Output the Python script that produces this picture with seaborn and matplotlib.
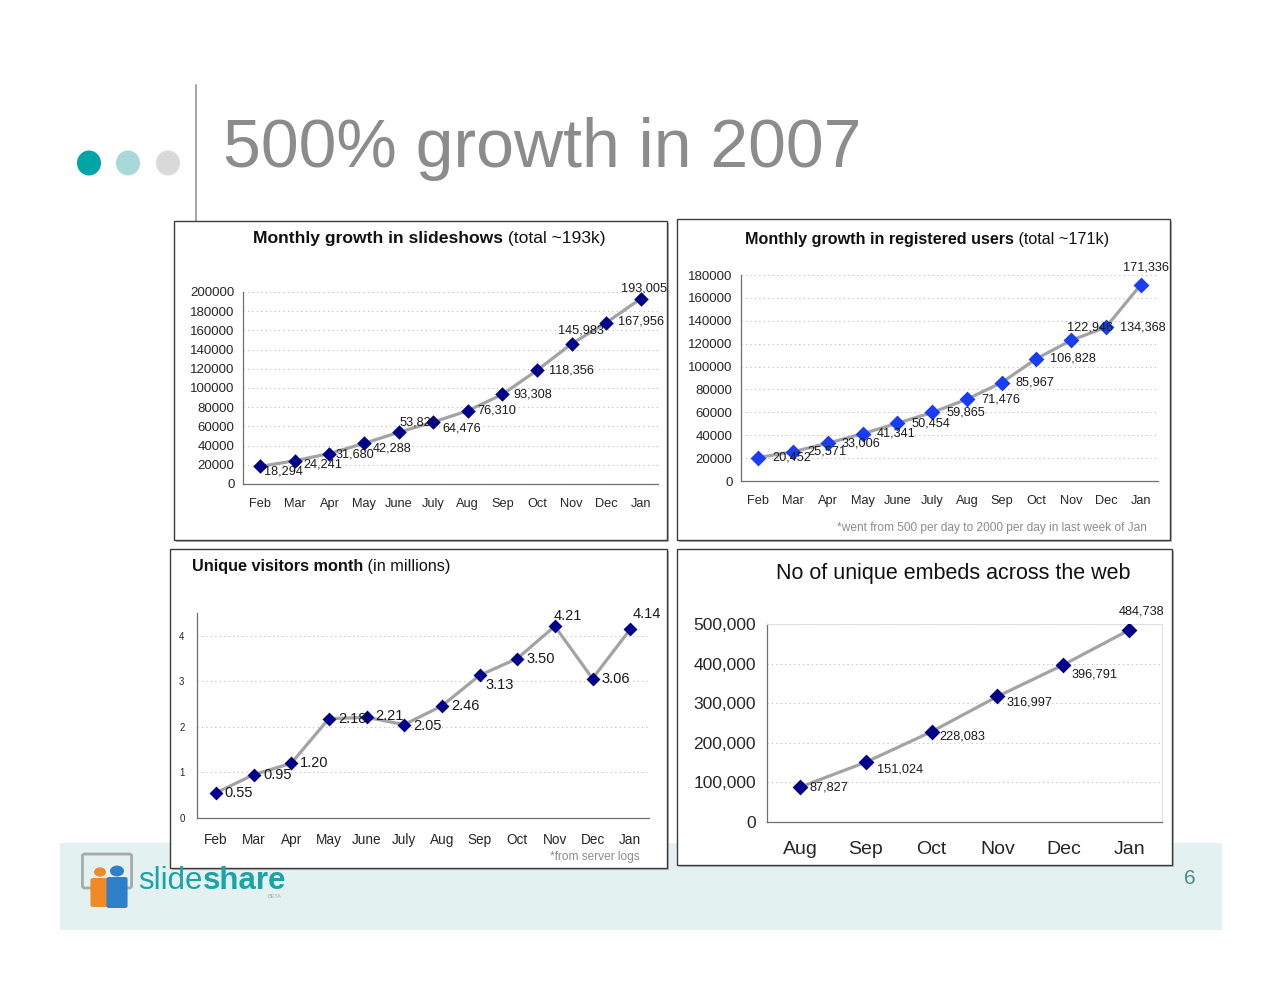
import matplotlib
matplotlib.use("Agg")
import matplotlib.pyplot as plt
import seaborn as sns
import numpy as np
from matplotlib.patches import Rectangle, Circle, FancyBboxPatch, Ellipse
from matplotlib.ticker import FixedLocator, FuncFormatter

# Data
months_12 = ["Feb", "Mar", "Apr", "May", "June", "July", "Aug", "Sep", "Oct", "Nov", "Dec", "Jan"]
slideshows = [18294, 24241, 31680, 42288, 53821, 64476, 76310, 93308, 118356, 145983, 167956, 193005]
users = [20452, 25571, 33006, 41341, 50454, 59865, 71476, 85967, 106828, 122946, 134368, 171336]
visitors = [0.55, 0.95, 1.20, 2.18, 2.21, 2.05, 2.46, 3.13, 3.50, 4.21, 3.06, 4.14]
months_6 = ["Aug", "Sep", "Oct", "Nov", "Dec", "Jan"]
embeds = [87827, 151024, 228083, 316997, 396791, 484738]

# label offsets in pixels (dx right, dy down) - layout only
off_slides = [(4, 5), (9, 4), (6, 1), (9, 5), (1, -10), (9, 6), (10, 0), (11, 0), (12, 0), (-14, -13), (12, -1), (-20, -10)]
off_users = [(14, 0)] * 9 + [(-4, -13), (14, 0), (-18, -17)]
off_visit = [(9, 0), (10, 0), (9, 0), (9, 0), (9, -1), (9, 1), (9, 0), (6, 10), (9, 0), (-1, -10), (9, 0), (2, -15)]
off_embeds = [(10, 0), (11, 7), (8, 5), (9, 6), (8, 10), (-10, -19)]

W, H = 1280, 989
sns.set_style("white")
plt.rcParams["font.family"] = ["Liberation Sans", "DejaVu Sans"]

fig = plt.figure(figsize=(W / 100, H / 100), dpi=100)
fig.patch.set_facecolor("white")


def fx(px):
    return px / W


def fy(py):
    return 1 - py / H


def rect(x0, y0, x1, y1, **kw):
    return Rectangle((fx(x0), fy(y1)), (x1 - x0) / W, (y1 - y0) / H, transform=fig.transFigure, **kw)


# background band + slide decorations
fig.patches.append(rect(60, 843, 1222, 930, facecolor="#e3f1f1", edgecolor="none", zorder=-5))
for cx, col in [(89, "#00a5a5"), (128, "#a9d8d8"), (168, "#d9d9d9")]:
    fig.patches.append(Ellipse((fx(cx), fy(163)), 24 / W, 25 / H, transform=fig.transFigure,
                               facecolor=col, edgecolor="none", zorder=-4))
fig.lines.append(plt.Line2D([fx(196), fx(196)], [fy(85), fy(221)], transform=fig.transFigure,
                            color="#a8a8a8", lw=1.5, zorder=-4))
fig.text(fx(223), fy(167), "500% growth in 2007", fontsize=49, color="#8c8c8c", va="baseline")

# chart boxes
boxes = [(174, 221, 667, 540), (677, 219, 1170, 540), (170, 549, 667, 868), (677, 549, 1172, 865)]
for x0, y0, x1, y1 in boxes:
    fig.patches.append(rect(x0 + 2, y0 + 2, x1 + 2, y1 + 2, facecolor="#b8b8b8", edgecolor="none", zorder=-3))
    fig.patches.append(rect(x0, y0, x1, y1, facecolor="white", edgecolor="#3c3c3c", lw=1, zorder=-2))


def make_chart(box, cats, vals, ylim, ystep, color, offsets, fmt, tick_fs, month_fs, label_fs,
               ms=55, comma=False, xpad=9, ypad=3):
    l, t, r, b = box
    ax = fig.add_axes([fx(l), fy(b), (r - l) / W, (b - t) / H])
    ax.patch.set_alpha(0)
    sns.lineplot(x=cats, y=vals, ax=ax, color="#a3a3a3", lw=2.3, sort=False, zorder=2)
    sns.scatterplot(x=cats, y=vals, ax=ax, marker="D", s=ms, color=color, edgecolor=color,
                    linewidth=0, zorder=3)
    n = len(cats)
    ax.set_xlim(-0.5, n - 0.5)
    ax.set_ylim(*ylim)
    ax.set_yticks(np.arange(ylim[0], ylim[1] + ystep / 2, ystep))
    ax.xaxis.set_minor_locator(FixedLocator(np.arange(-0.5, n, 1)))
    ax.tick_params(axis="x", which="major", length=0, pad=xpad, labelsize=month_fs)
    ax.tick_params(axis="x", which="minor", length=4, width=0.8, color="#707070", direction="out")
    ax.tick_params(axis="y", length=3, width=0.8, color="#707070", direction="out", pad=ypad, labelsize=tick_fs)
    if comma:
        ax.yaxis.set_major_formatter(FuncFormatter(lambda v, p: f"{v:,.0f}"))
    else:
        ax.yaxis.set_major_formatter(FuncFormatter(lambda v, p: f"{v:g}" if v < 10 else f"{v:.0f}"))
    ax.yaxis.grid(True, linestyle=(0, (1, 3)), color="#bdbdbd", lw=0.8)
    ax.set_axisbelow(True)
    for s in ["top", "right"]:
        ax.spines[s].set_visible(False)
    for s in ["left", "bottom"]:
        ax.spines[s].set_color("#707070")
        ax.spines[s].set_linewidth(0.9)
    ax.set_xlabel("")
    ax.set_ylabel("")
    for i, (v, (dx, dy)) in enumerate(zip(vals, offsets)):
        ax.annotate(fmt(v), (i, v), xytext=(dx * 0.72, -dy * 0.72), textcoords="offset points",
                    ha="left", va="center", fontsize=label_fs, color="#1a1a1a", zorder=4)
    return ax


make_chart((243, 292, 658, 484), months_12, slideshows, (0, 200000), 20000, "#00008b",
           off_slides, lambda v: f"{v:,}", 9.5, 9.2, 9.2, xpad=10)
make_chart((741, 275, 1158, 481), months_12, users, (0, 180000), 20000, "#1a3cf2",
           off_users, lambda v: f"{v:,}", 9.5, 9.2, 9.2, ms=65, xpad=10)
make_chart((197, 613, 649, 818), months_12, visitors, (0, 4.5), 1, "#00008b",
           off_visit, lambda v: f"{v:.2f}", 7, 9.8, 10.5, ms=50, xpad=11, ypad=6)
ax4 = make_chart((767, 624, 1162, 822), months_6, embeds, (0, 500000), 100000, "#00008b",
                 off_embeds, lambda v: f"{v:,}", 12.5, 14, 9.2, ms=65, comma=True, xpad=14, ypad=5)
ax4.spines["right"].set_visible(True)
ax4.spines["right"].set_color("#e0e0e0")
ax4.spines["top"].set_visible(True)
ax4.spines["top"].set_color("#e0e0e0")


def two_part(x, y, bold, normal, fs):
    t = fig.text(fx(x), fy(y), bold, fontsize=fs, fontweight="bold", ha="left", va="bottom", color="#111111")
    fig.texts.append(matplotlib.text.Annotation(normal, xy=(1, 0), xycoords=t, ha="left", va="bottom",
                                                fontsize=fs, color="#111111"))
    fig.texts[-1].set_figure(fig)


two_part(253, 246, "Monthly growth in slideshows", " (total ~193k)", 12.6)
two_part(745, 247, "Monthly growth in registered users", " (total ~171k)", 11.6)
two_part(192, 574, "Unique visitors month", " (in millions)", 11.7)
fig.text(fx(953), fy(573), "No of unique embeds across the web", fontsize=15.5, ha="center", va="center",
         color="#111111")

fig.text(fx(1147), fy(528), "*went from 500 per day to 2000 per day in last week of Jan", fontsize=8.6,
         ha="right", va="center", color="#8c8c8c")
fig.text(fx(640), fy(857), "*from server logs", fontsize=8.6, ha="right", va="center", color="#8c8c8c")

# slideshare logo
fig.patches.append(FancyBboxPatch((fx(85), fy(886)), 44 / W, 30 / H, boxstyle="round,pad=0.002",
                                  transform=fig.transFigure, facecolor="none", edgecolor="#a9a9a9",
                                  lw=2, zorder=-1))
fig.patches.append(Circle((fx(100), fy(872)), 6 / W, transform=fig.transFigure, facecolor="#f08a24",
                          edgecolor="none", zorder=0))
fig.patches.append(FancyBboxPatch((fx(93), fy(905)), 13 / W, 25 / H, boxstyle="round,pad=0.002",
                                  transform=fig.transFigure, facecolor="#f08a24", edgecolor="none", zorder=0))
fig.patches.append(Circle((fx(117), fy(871)), 7 / W, transform=fig.transFigure, facecolor="#2f7fc8",
                          edgecolor="none", zorder=0))
fig.patches.append(FancyBboxPatch((fx(109), fy(906)), 16 / W, 27 / H, boxstyle="round,pad=0.002",
                                  transform=fig.transFigure, facecolor="#2f7fc8", edgecolor="none", zorder=0))
st = fig.text(fx(138), fy(889), "slide", fontsize=22.5, color="#1ba3a8", ha="left", va="baseline")
fig.texts.append(matplotlib.text.Annotation("share", xy=(1, 0), xycoords=st, ha="left", va="bottom",
                                            fontsize=22.5, fontweight="bold", color="#1ba3a8"))
fig.texts[-1].set_figure(fig)
fig.text(fx(268), fy(897), "BETA", fontsize=4, color="#aaaaaa", ha="left", va="center")
fig.text(fx(1190), fy(879), "6", fontsize=15, color="#4f8c8c", ha="center", va="center")

fig.savefig("out.png", dpi=100)
